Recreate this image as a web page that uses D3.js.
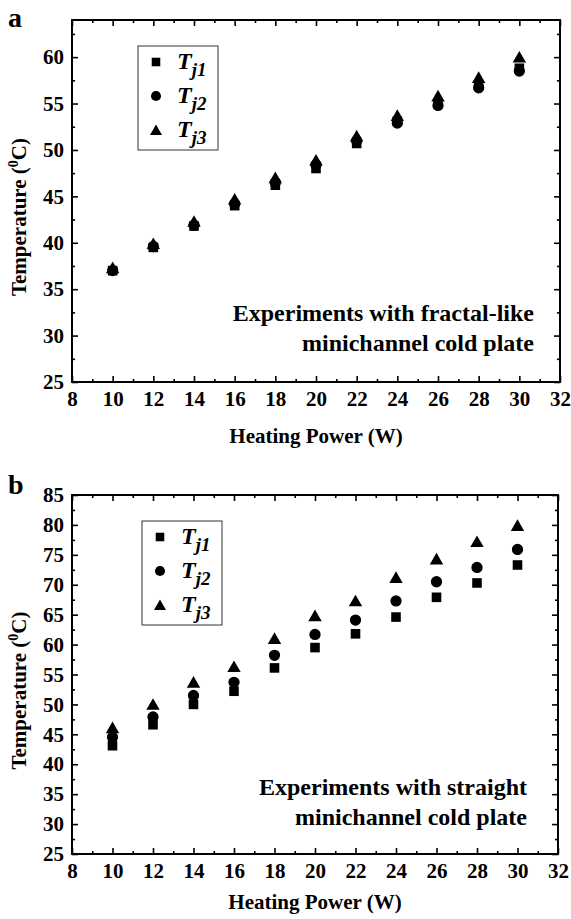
<!DOCTYPE html>
<html>
<head>
<meta charset="utf-8">
<script src="https://cdn.jsdelivr.net/npm/d3@7"></script>
<style>
  body { margin: 0; background: #fff; }
  text { font-family: "Liberation Serif", "Times New Roman", serif; font-weight: bold; fill: #000; }
</style>
</head>
<body>
<div id="chart"></div>
<script>
// heating power (W)
const power = [10, 12, 14, 16, 18, 20, 22, 24, 26, 28, 30];

// panel a: fractal-like minichannel cold plate
const fractalTj1 = [37.0, 39.5, 41.8, 44.0, 46.2, 48.0, 50.7, 53.1, 55.0, 57.0, 58.8];
const fractalTj2 = [37.0, 39.6, 41.9, 44.2, 46.5, 48.4, 51.0, 52.9, 54.8, 56.7, 58.5];
const fractalTj3 = [37.3, 39.9, 42.3, 44.7, 47.0, 48.9, 51.5, 53.7, 55.8, 57.8, 60.0];

// panel b: straight minichannel cold plate
const straightTj1 = [43.1, 46.6, 50.0, 52.2, 56.1, 59.5, 61.8, 64.6, 67.9, 70.3, 73.3];
const straightTj2 = [44.5, 47.9, 51.5, 53.7, 58.2, 61.7, 64.1, 67.3, 70.5, 72.9, 75.9];
const straightTj3 = [46.1, 50.0, 53.7, 56.3, 61.0, 64.8, 67.3, 71.2, 74.3, 77.2, 79.9];

const seriesNames = ["1", "2", "3"];
const xTicks = d3.range(8, 33, 2);

const svg = d3.select("#chart").append("svg")
  .attr("width", 571).attr("height", 919);

const symbols = [d3.symbolSquare, d3.symbolCircle, d3.symbolTriangle];
const symbolSize = [92, 100, 78];

function drawPanel(cfg) {
  let x = d3.scaleLinear().domain([8, 32]).range([cfg.left, cfg.right]);
  let y = d3.scaleLinear().domain(cfg.yDomain).range([cfg.bottom, cfg.top]);
  let g = svg.append("g");

  // minor ticks
  let xMinor = d3.range(9, 32, 2);
  let yMinor = d3.range(cfg.yDomain[0] + 2.5, cfg.yDomain[1], 5);
  let yMajor = d3.range(cfg.yDomain[0], cfg.yDomain[1] + 0.1, 5);

  function tickAxis(axis, tr) {
    g.append("g").attr("transform", tr).call(axis)
      .call(a => a.select(".domain").remove())
      .call(a => a.selectAll("line").attr("stroke", "#000").attr("stroke-width", 1.6));
  }
  tickAxis(d3.axisBottom(x).tickValues(xMinor).tickSize(-3).tickFormat(""), `translate(0,${cfg.bottom})`);
  tickAxis(d3.axisTop(x).tickValues(xMinor).tickSize(-3).tickFormat(""), `translate(0,${cfg.top})`);
  tickAxis(d3.axisTop(x).tickValues(xTicks).tickSize(-6).tickFormat(""), `translate(0,${cfg.top})`);
  tickAxis(d3.axisLeft(y).tickValues(yMinor).tickSize(-3).tickFormat(""), `translate(${cfg.left},0)`);
  tickAxis(d3.axisRight(y).tickValues(yMinor).tickSize(-3).tickFormat(""), `translate(${cfg.right},0)`);
  tickAxis(d3.axisRight(y).tickValues(yMajor).tickSize(-6).tickFormat(""), `translate(${cfg.right},0)`);

  let xAxis = g.append("g").attr("transform", `translate(0,${cfg.bottom})`)
    .call(d3.axisBottom(x).tickValues(xTicks).tickSize(-6).tickPadding(9));
  let yAxis = g.append("g").attr("transform", `translate(${cfg.left},0)`)
    .call(d3.axisLeft(y).tickValues(yMajor).tickSize(-6).tickPadding(8));
  [xAxis, yAxis].forEach(a => {
    a.select(".domain").remove();
    a.selectAll("line").attr("stroke", "#000").attr("stroke-width", 1.6);
    a.selectAll("text").style("font-size", "21px")
      .style("font-family", '"Liberation Serif", serif').style("font-weight", "bold");
  });

  // frame
  g.append("rect")
    .attr("x", cfg.left).attr("y", cfg.top)
    .attr("width", cfg.right - cfg.left).attr("height", cfg.bottom - cfg.top)
    .attr("fill", "none").attr("stroke", "#000").attr("stroke-width", 2);

  // data markers
  cfg.series.forEach((vals, i) => {
    g.selectAll(null).data(vals).join("path")
      .attr("d", d3.symbol().type(symbols[i]).size(symbolSize[i]))
      .attr("transform", (d, j) => `translate(${x(power[j])},${y(d) + (i === 2 ? 1.5 : 0)})`)
      .attr("fill", "#000");
  });

  // legend
  let lg = g.append("g");
  lg.append("rect")
    .attr("x", cfg.legend[0]).attr("y", cfg.legend[1])
    .attr("width", 80).attr("height", 104)
    .attr("fill", "#fff").attr("stroke", "#333").attr("stroke-width", 1);
  seriesNames.forEach((n, i) => {
    let cy = cfg.legend[1] + 16 + i * 34;
    lg.append("path")
      .attr("d", d3.symbol().type(symbols[i]).size(symbolSize[i] * 0.8))
      .attr("transform", `translate(${cfg.legend[0] + 18},${cy + (i === 2 ? 1.5 : 0)})`)
      .attr("fill", "#000");
    let t = lg.append("text")
      .attr("x", cfg.legend[0] + 39).attr("y", cy + 7)
      .style("font-size", "24px").style("font-style", "italic");
    t.append("tspan").text("T");
    t.append("tspan").attr("dy", 7).style("font-size", "19px").text("j" + n);
  });

  // annotation
  cfg.note.forEach((line, i) => {
    g.append("text")
      .attr("x", cfg.noteX).attr("y", cfg.noteY + i * 30)
      .attr("text-anchor", "end")
      .style("font-size", "24px")
      .text(line);
  });

  // axis titles
  g.append("text")
    .attr("x", (cfg.left + cfg.right) / 2).attr("y", cfg.titleY)
    .attr("text-anchor", "middle")
    .style("font-size", "21px")
    .text("Heating Power (W)");
  let yt = g.append("text")
    .attr("transform", `translate(26,${(cfg.top + cfg.bottom) / 2 + 16}) rotate(-90)`)
    .attr("text-anchor", "middle")
    .style("font-size", "21px");
  yt.append("tspan").text("Temperature (");
  yt.append("tspan").attr("dy", -8).style("font-size", "14px").text("0");
  yt.append("tspan").attr("dy", 8).text("C)");

  // panel letter
  g.append("text")
    .attr("x", 8).attr("y", cfg.letterY)
    .style("font-size", "28px")
    .text(cfg.letter);
}

drawPanel({
  letter: "a", letterY: 27,
  left: 72, right: 560, top: 20, bottom: 382,
  yDomain: [25, 64],
  series: [fractalTj1, fractalTj2, fractalTj3],
  legend: [138, 46],
  note: ["Experiments with fractal-like", "minichannel cold plate"],
  noteX: 534, noteY: 321,
  titleY: 443
});

drawPanel({
  letter: "b", letterY: 494,
  left: 72, right: 558, top: 495, bottom: 854,
  yDomain: [25, 85],
  series: [straightTj1, straightTj2, straightTj3],
  legend: [142, 521],
  note: ["Experiments with straight", "minichannel cold plate"],
  noteX: 527, noteY: 795,
  titleY: 909
});
</script>
</body>
</html>
